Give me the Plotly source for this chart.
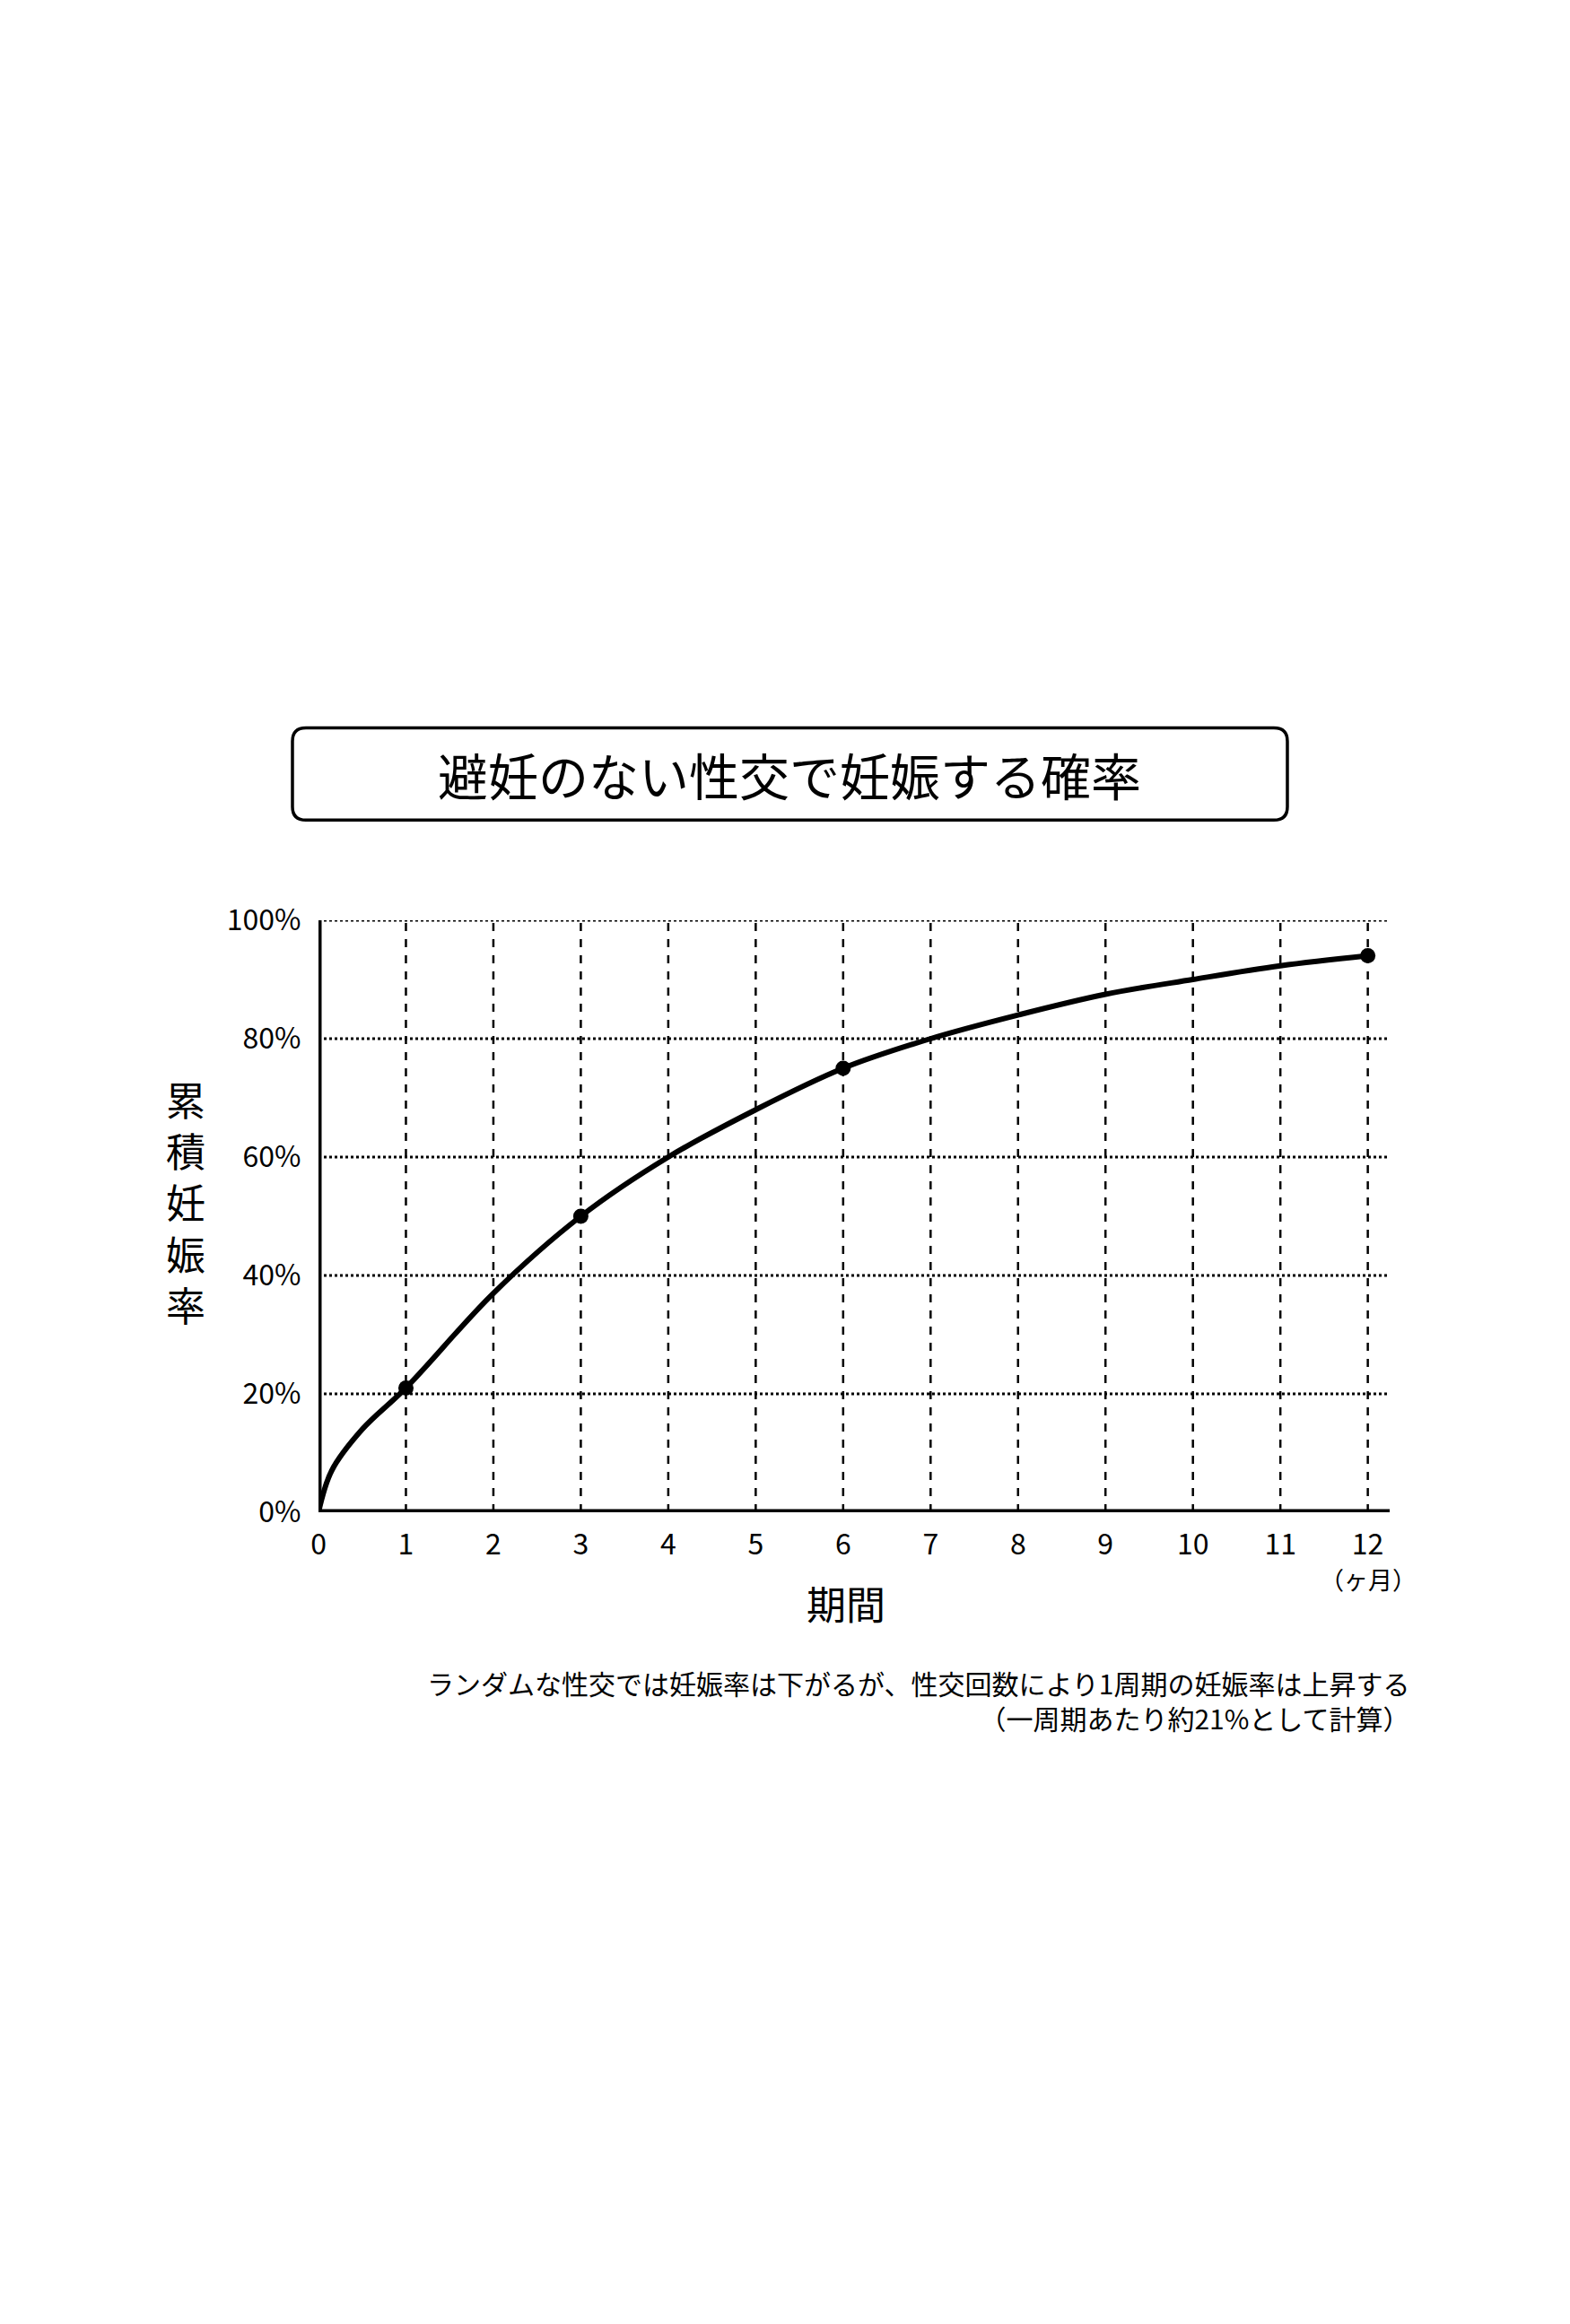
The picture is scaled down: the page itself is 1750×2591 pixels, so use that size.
import plotly.graph_objects as go

months = [0, 0.15, 0.5, 1, 2, 3, 4, 5, 6, 7, 8, 9, 10, 11, 12]
rate = [0, 7, 14, 21, 37, 50, 60, 68, 75, 80, 84, 87.5, 90, 92.3, 94]
marked_months = [1, 3, 6, 12]
marked_rate = [21, 50, 75, 94]
x_ticks = list(range(13))
y_ticks = [0, 20, 40, 60, 80, 100]

FONT = "Noto Sans CJK JP"

fig = go.Figure()
fig.add_trace(go.Scatter(x=months, y=rate, mode="lines",
                         line=dict(color="black", width=6, shape="spline", smoothing=1.0)))
fig.add_trace(go.Scatter(x=marked_months, y=marked_rate, mode="markers",
                         marker=dict(color="black", size=17)))

# grid lines (vertical dashed, horizontal dotted)
for m in x_ticks[1:]:
    fig.add_shape(type="line", x0=m, x1=m, y0=0, y1=100,
                  line=dict(color="black", width=2.5, dash="dash"))
for v in y_ticks[1:]:
    fig.add_shape(type="line", x0=0, x1=12.25, y0=v, y1=v,
                  line=dict(color="black", width=3, dash="dot"))
# axis lines
fig.add_shape(type="line", x0=0, x1=12.25, y0=0, y1=0, line=dict(color="black", width=7))
fig.add_shape(type="line", x0=0, x1=0, y0=0, y1=100.5, line=dict(color="black", width=7))

# rounded title box
x0, x1, y0, y1 = -0.0243, 0.9045, 1.1692, 1.3249
rx, ry = 0.0126, 0.0225
path = (f"M {x0+rx},{y1} L {x1-rx},{y1} Q {x1},{y1} {x1},{y1-ry} "
        f"L {x1},{y0+ry} Q {x1},{y0} {x1-rx},{y0} L {x0+rx},{y0} "
        f"Q {x0},{y0} {x0},{y0+ry} L {x0},{y1-ry} Q {x0},{y1} {x0+rx},{y1} Z")
fig.add_shape(type="path", path=path, xref="paper", yref="paper",
              line=dict(color="black", width=3.5))

ann = dict(xref="paper", yref="paper", showarrow=False, xanchor="center", yanchor="middle",
           font=dict(family=FONT, color="black"))
fig.add_annotation(ann, x=0.4401, y=1.247, text="避妊のない性交で妊娠する確率", font_size=56)
fig.add_annotation(ann, x=-0.124, y=0.525, text="累<br>積<br>妊<br>娠<br>率", font_size=44)
fig.add_annotation(ann, x=0.4925, y=-0.153, text="期間", font_size=44)
fig.add_annotation(ann, x=0.98, y=-0.113, text="（ヶ月）", font_size=27)
fig.add_annotation(ann, x=1.02, y=-0.318, xanchor="right", align="right", font_size=30,
                   text="ランダムな性交では妊娠率は下がるが、性交回数により1周期の妊娠率は上昇する<br>（一周期あたり約21%として計算）")

fig.update_layout(
    width=1750, height=2591, showlegend=False,
    paper_bgcolor="white", plot_bgcolor="white",
    margin=dict(l=347, r=209, t=1018, b=913),
    font=dict(family=FONT, color="black"),
    xaxis=dict(range=[0, 12.25], tickvals=x_ticks, showgrid=False, zeroline=False,
               showline=False, tickfont_size=32, ticks="outside", ticklen=8, tickcolor="white"),
    yaxis=dict(range=[0, 100], tickvals=y_ticks, ticktext=[f"{v}%" for v in y_ticks],
               showgrid=False, zeroline=False, showline=False, tickfont_size=32,
               ticks="outside", ticklen=12, tickcolor="white"),
)
fig.write_html("out.html")
